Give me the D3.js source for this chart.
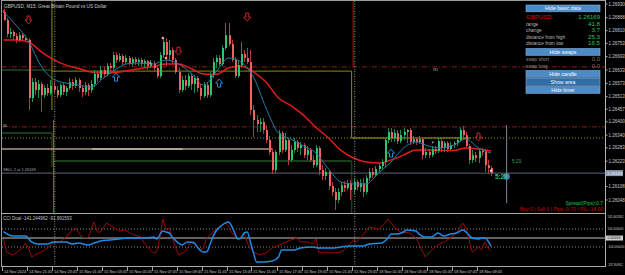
<!DOCTYPE html>
<html><head><meta charset="utf-8">
<script src="https://cdn.jsdelivr.net/npm/d3@7"></script>
<style>
html,body{margin:0;padding:0;background:#000;}
svg{display:block;font-family:"Liberation Sans",Arial,sans-serif;}
</style></head><body>
<svg id="c" width="625" height="275"></svg>
<script>
// ---------- DATA ----------
const symbol = "GBPUSD";
const title = "GBPUSD, M15:  Great Britain Pound vs US Dollar";
const openFirst = 1.26894;
const close = [1.26858,1.26795,1.26804,1.26786,1.26768,1.26790,1.26777,1.26768,1.26507,1.26579,
1.26543,1.26570,1.26520,1.26552,1.26529,1.26561,1.26543,1.26520,1.26565,1.26534,
1.26552,1.26579,1.26561,1.26588,1.26552,1.26534,1.26565,1.26543,1.26570,1.26615,
1.26597,1.26633,1.26615,1.26651,1.26642,1.26700,1.26678,1.26696,1.26669,1.26687,
1.26664,1.26682,1.26669,1.26678,1.26660,1.26673,1.26651,1.26664,1.26642,1.26606,
1.26700,1.26759,1.26700,1.26723,1.26678,1.26624,1.26543,1.26588,1.26561,1.26606,
1.26570,1.26597,1.26552,1.26516,1.26565,1.26520,1.26610,1.26669,1.26687,1.26660,
1.26732,1.26790,1.26750,1.26678,1.26606,1.26655,1.26705,1.26687,1.26669,1.26453,
1.26408,1.26390,1.26399,1.26363,1.26318,1.26264,1.26183,1.26264,1.26349,1.26273,
1.26318,1.26228,1.26273,1.26309,1.26282,1.26295,1.26250,1.26273,1.26228,1.26205,
1.26282,1.26183,1.26156,1.26174,1.26111,1.26084,1.26048,1.26084,1.26115,1.26102,
1.26124,1.26093,1.26129,1.26106,1.26124,1.26084,1.26147,1.26174,1.26160,1.26187,
1.26201,1.26219,1.26318,1.26354,1.26327,1.26349,1.26313,1.26340,1.26354,1.26363,
1.26309,1.26322,1.26309,1.26322,1.26250,1.26264,1.26250,1.26277,1.26268,1.26313,
1.26282,1.26304,1.26277,1.26295,1.26304,1.26318,1.26363,1.26340,1.26291,1.26228,
1.26250,1.26237,1.26268,1.26264,1.26205,1.26192,1.26169];
const high = [1.26908,1.26867,1.26822,1.26813,1.26799,1.26804,1.26799,1.26790,1.26777,1.26597,
1.26597,1.26588,1.26579,1.26565,1.26570,1.26588,1.26579,1.26561,1.26574,1.26574,
1.26561,1.26597,1.26592,1.26601,1.26597,1.26565,1.26579,1.26574,1.26588,1.26633,
1.26628,1.26651,1.26646,1.26664,1.26664,1.26714,1.26714,1.26709,1.26705,1.26700,
1.26696,1.26691,1.26691,1.26687,1.26687,1.26682,1.26678,1.26678,1.26673,1.26651,
1.26714,1.26777,1.26777,1.26768,1.26736,1.26687,1.26642,1.26606,1.26610,1.26619,
1.26619,1.26610,1.26606,1.26570,1.26579,1.26579,1.26624,1.26687,1.26700,1.26700,
1.26745,1.26844,1.26844,1.26768,1.26691,1.26678,1.26759,1.26723,1.26732,1.26723,
1.26475,1.26430,1.26417,1.26417,1.26385,1.26336,1.26282,1.26273,1.26363,1.26358,
1.26349,1.26327,1.26295,1.26327,1.26318,1.26309,1.26304,1.26291,1.26282,1.26250,
1.26295,1.26291,1.26205,1.26192,1.26183,1.26129,1.26102,1.26102,1.26129,1.26133,
1.26138,1.26138,1.26147,1.26138,1.26142,1.26147,1.26160,1.26192,1.26192,1.26201,
1.26214,1.26232,1.26327,1.26372,1.26372,1.26367,1.26363,1.26363,1.26372,1.26367,
1.26372,1.26336,1.26331,1.26336,1.26331,1.26282,1.26277,1.26291,1.26291,1.26327,
1.26322,1.26313,1.26313,1.26309,1.26313,1.26331,1.26376,1.26381,1.26354,1.26300,
1.26273,1.26264,1.26277,1.26282,1.26277,1.26228,1.26201];
const low = [1.26854,1.26781,1.26777,1.26768,1.26754,1.26759,1.26763,1.26759,1.26453,1.26489,
1.26520,1.26507,1.26444,1.26507,1.26516,1.26520,1.26529,1.26507,1.26511,1.26520,
1.26516,1.26543,1.26543,1.26552,1.26534,1.26511,1.26520,1.26516,1.26529,1.26556,
1.26579,1.26588,1.26601,1.26606,1.26624,1.26633,1.26664,1.26669,1.26655,1.26660,
1.26655,1.26651,1.26655,1.26651,1.26646,1.26642,1.26633,1.26642,1.26624,1.26597,
1.26597,1.26687,1.26651,1.26678,1.26660,1.26615,1.26529,1.26534,1.26543,1.26552,
1.26543,1.26529,1.26534,1.26498,1.26507,1.26507,1.26511,1.26597,1.26642,1.26651,
1.26651,1.26723,1.26741,1.26669,1.26597,1.26597,1.26642,1.26669,1.26660,1.26430,
1.26331,1.26354,1.26354,1.26345,1.26304,1.26250,1.26165,1.26169,1.26250,1.26259,
1.26264,1.26205,1.26219,1.26259,1.26264,1.26250,1.26237,1.26228,1.26219,1.26192,
1.26196,1.26160,1.26138,1.26138,1.26093,1.26066,1.26003,1.26034,1.26066,1.26084,
1.26093,1.26048,1.26075,1.26093,1.26084,1.26061,1.26075,1.26133,1.26147,1.26151,
1.26174,1.26187,1.26196,1.26304,1.26309,1.26309,1.26300,1.26304,1.26318,1.26304,
1.26295,1.26300,1.26295,1.26300,1.26232,1.26237,1.26237,1.26241,1.26255,1.26259,
1.26264,1.26264,1.26264,1.26273,1.26282,1.26291,1.26309,1.26318,1.26282,1.26210,
1.26214,1.26219,1.26214,1.26246,1.26174,1.26165,1.26156];

// moving averages, one reading every maStep bars
const maStep = 4;
const maSlow = [1.26768,1.26768,1.26759,1.26716,1.26680,1.26655,1.26640,1.26624,1.26619,1.26622,
1.26631,1.26640,1.26649,1.26660,1.26660,1.26640,1.26615,1.26613,1.26642,1.26651,
1.26624,1.26579,1.26507,1.26473,1.26430,1.26374,1.26327,1.26271,1.26237,1.26219,
1.26214,1.26228,1.26250,1.26273,1.26273,1.26271,1.26271,1.26282,1.26277,1.26268];
const maFast = [1.26894,1.26835,1.26763,1.26651,1.26592,1.26574,1.26565,1.26556,1.26597,1.26637,
1.26662,1.26664,1.26660,1.26678,1.26660,1.26619,1.26565,1.26624,1.26687,1.26669,
1.26601,1.26462,1.26349,1.26322,1.26291,1.26259,1.26187,1.26129,1.26120,1.26120,
1.26169,1.26219,1.26282,1.26309,1.26291,1.26282,1.26295,1.26322,1.26282,1.26259];

// CCI Dual readings [bar, value]
const cciRed = [[0,-10],[1,-156],[3,-189],[4,-167],[6,-111],[7,-56],[8,-111],[9,-211],[10,-189],[12,-156],[14,-111],[16,-56],[18,-44],[20,11],[22,89],[23,111],[25,11],[27,0],[28,89],[29,178],[30,67],[31,67],[33,167],[35,122],[37,78],[39,89],[41,44],[44,11],[45,-56],[47,-133],[48,-167],[49,-156],[50,0],[51,211],[52,89],[53,111],[54,0],[55,-100],[56,-189],[58,-156],[60,-44],[61,-44],[63,-133],[64,-111],[65,0],[67,67],[69,122],[71,167],[72,133],[73,56],[75,0],[76,11],[77,56],[78,-56],[80,-156],[82,-189],[84,-167],[86,-111],[89,-67],[92,-22],[94,0],[95,-44],[97,-44],[99,-67],[100,-11],[101,-167],[103,-156],[105,-167],[108,-156],[110,-100],[112,-22],[113,-44],[115,33],[117,122],[120,100],[122,167],[123,211],[125,122],[127,67],[130,56],[132,0],[135,-211],[137,-133],[139,-78],[141,-44],[143,0],[145,56],[147,167],[148,111],[150,-156],[152,-100],[153,-133],[154,-44],[155,-111],[156,-141]];
const cciBlue = [[0,72],[3,22],[7,22],[9,-44],[11,-67],[14,-67],[16,-44],[20,-44],[22,-67],[24,-56],[27,-78],[29,-56],[31,-33],[34,-22],[37,-11],[40,0],[46,0],[48,11],[49,-11],[51,78],[52,67],[53,56],[54,11],[56,-56],[57,-78],[59,-44],[61,-56],[62,-100],[64,-156],[65,-156],[66,-78],[67,11],[68,78],[70,145],[72,178],[73,133],[74,56],[75,-11],[76,0],[77,56],[78,67],[79,-44],[80,-167],[81,-267],[83,-267],[86,-256],[88,-211],[89,-133],[93,-133],[95,-111],[99,-100],[101,-111],[105,-111],[108,-100],[111,-89],[115,-89],[117,-67],[121,-56],[123,0],[124,44],[126,44],[128,67],[129,89],[132,78],[133,44],[135,11],[137,11],[139,56],[141,22],[143,44],[145,56],[147,89],[148,67],[150,0],[152,-11],[153,0],[154,0],[156,-92]];
const cciTitle = "CCI Dual -141.244962 -91.991593";
const cciTicks = [241.662362, 100, 0, -100, -327.80952];
const cciTickLabels = ["241.662362","100.000000","0.000000","-100.000000","-327.80952"];

const timeLabels = ["14 Nov 2024","14 Nov 21:45","14 Nov 23:45","15 Nov 01:45","15 Nov 03:45","15 Nov 05:45","15 Nov 07:45","15 Nov 09:45","15 Nov 11:45","15 Nov 13:45","15 Nov 15:45","15 Nov 17:45","15 Nov 19:45","15 Nov 21:45","15 Nov 23:45","18 Nov 01:45","18 Nov 03:45","18 Nov 05:45","18 Nov 07:45","18 Nov 09:45"];
const timeLabelEvery = 8;
const priceTicks = [1.26930,1.26868,1.26810,1.26753,1.26693,1.26633,1.26573,1.26513,1.26457,1.26400,1.26340,1.26283,1.26223,1.26108,1.26048];
const bid = 1.26169;

const arrowsDown = [[8,1.26858],[56,1.26718],[78,1.26871],[152,1.26331]];
const arrowsUp = [[36,1.26601],[69,1.26574],[124,1.26259]];
const daySeparators = [16.4, 112.4];
const slLevel = 1.26377, r1Level = 1.26647, yellowLevel = 1.26327;
const oliveTop = 1.26628, greenA = 1.26633, greenB = 1.26350, greenC = 1.26224, tanLevel = 1.26277;

const infoRows = [["range","41.8"],["change","3.7"],["distance from high","25.3"],["distance from low","16.5"]];
const swapRows = [["swap short","0.0"],["swap long","0.0"]];
const spreadText = "Spread(Pips):0.7";
const tradeText = "Buy:0 | Sell:1 | Pips:-0.70 | P/L:-14.00";
const timerText = "5:29";

// ---------- SCALES ----------
const svg = d3.select("#c");
const AX = 605.5;
const xB = d3.scaleLinear().domain([0,156]).range([3.5,491]);
const yP = d3.scaleLinear().domain([1.26948,1.26003]).range([0,210]);
const yC = d3.scaleLinear().domain([-327.80952,241.662362]).range([267.5,216.3]);

svg.append("rect").attr("width",625).attr("height",275).attr("fill","#000");
const defs = svg.append("defs");
defs.append("clipPath").attr("id","cm").append("rect").attr("x",2).attr("y",1).attr("width",AX-2).attr("height",212);
defs.append("clipPath").attr("id","cc").append("rect").attr("x",2).attr("y",214).attr("width",AX-2).attr("height",52.5);

const gm = svg.append("g").attr("clip-path","url(#cm)");
const gc = svg.append("g").attr("clip-path","url(#cc)");

function hline(g, p, x0, x1, color, w, dash){
  g.append("line").attr("x1",x0).attr("x2",x1).attr("y1",yP(p)).attr("y2",yP(p))
   .attr("stroke",color).attr("stroke-width",w).attr("stroke-dasharray",dash||null);
}
function vline(g, bar, p0, p1, color, w, dash){
  g.append("line").attr("x1",xB(bar)).attr("x2",xB(bar)).attr("y1",yP(p0)).attr("y2",yP(p1))
   .attr("stroke",color).attr("stroke-width",w).attr("stroke-dasharray",dash||null);
}

// levels
hline(gm, r1Level, 2, AX, "#8b1a1a", 1, "5,2,1,2");
hline(gm, slLevel, 2, AX, "#8b1a1a", 1, "5,2,1,2");
hline(gm, yellowLevel, 2, AX, "#9a9a10", 1, "1,2");
gm.append("line").attr("x1",xB(111.4)).attr("x2",xB(149.3)).attr("y1",yP(yellowLevel)).attr("y2",yP(yellowLevel)).attr("stroke","#a0a010").attr("stroke-width",1);
hline(gm, greenA, 2, xB(15.5), "#2d6e2d", 1);
gm.append("line").attr("x1",xB(15.5)).attr("x2",xB(111.4)).attr("y1",yP(oliveTop)).attr("y2",yP(oliveTop)).attr("stroke","#8c8c00").attr("stroke-width",1);
vline(gm, 15.5, 1.26948, 1.26453, "#8c8c00", 1);
vline(gm, 111.4, oliveTop, yellowLevel, "#8c8c00", 1);
hline(gm, greenB, 2, xB(15.5), "#1a3a1a", 2);
vline(gm, 15.5, greenB, 1.26198, "#1a401a", 1.5);
gm.append("line").attr("x1",xB(16.2)).attr("x2",xB(111.4)).attr("y1",yP(greenC)).attr("y2",yP(greenC)).attr("stroke","#17401a").attr("stroke-width",2);
vline(gm, 111.4, greenC, 1.25990, "#17401a", 1.5);
vline(gm, 16, 1.26408, 1.25990, "#2a8a3a", 1);
[[-1,28.3,"#a89a88"],[28.3,57.4,"#e6dfd2"],[57.4,86.2,"#a89a88"]].forEach(s=>{
  gm.append("line").attr("x1",xB(s[0])).attr("x2",xB(s[1])).attr("y1",yP(tanLevel)).attr("y2",yP(tanLevel)).attr("stroke",s[2]).attr("stroke-width",1.5);
});
hline(gm, bid, 2, AX, "#5c6678", 1);
vline(gm, 111.9, 1.26948, r1Level, "#8b0000", 1.5);

// day separators (both panels)
daySeparators.forEach(b=>{
  svg.append("line").attr("x1",xB(b)).attr("x2",xB(b)).attr("y1",1).attr("y2",266)
    .attr("stroke","#8c8c8c").attr("stroke-width",1).attr("stroke-dasharray","1,1.5");
});

// moving averages
const maLine = d3.line().x((d,i)=>xB(i*maStep)).y(d=>yP(d)).curve(d3.curveMonotoneX);
gm.append("path").attr("d",maLine(maSlow)).attr("fill","none").attr("stroke","#e31b1b").attr("stroke-width",1.5);

// candles
const bars = close.map((c,i)=>({i,o:i?close[i-1]:openFirst,h:high[i],l:low[i],c}));
const cx = d=>Math.round(xB(d.i));
gm.selectAll("line.w").data(bars).join("line").attr("class","w")
  .attr("x1",d=>cx(d)+0.5).attr("x2",d=>cx(d)+0.5).attr("y1",d=>yP(d.h)).attr("y2",d=>yP(d.l))
  .attr("stroke",d=>d.c>=d.o?"#1e8c4e":"#b03a3a").attr("stroke-width",1);
gm.selectAll("rect.b").data(bars).join("rect").attr("class","b")
  .attr("x",d=>cx(d)).attr("width",2)
  .attr("y",d=>yP(Math.max(d.o,d.c))).attr("height",d=>Math.max(1,Math.abs(yP(d.o)-yP(d.c))))
  .attr("fill",d=>d.c>=d.o?"#2fc46f":"#f0625f");

gm.append("path").attr("d",maLine(maFast)).attr("fill","none").attr("stroke","#1b7ea6").attr("stroke-width",1);

// arrows
function arrowPath(cx, cy, dir){
  const s = dir; // 1 down, -1 up
  const pts = [[-1.5,-4*s],[1.5,-4*s],[1.5,0],[3.5,0],[0,4*s],[-3.5,0],[-1.5,0]];
  return "M"+pts.map(p=>(cx+p[0])+","+(cy+p[1])).join("L")+"Z";
}
arrowsDown.forEach(a=>gm.append("path").attr("d",arrowPath(xB(a[0]),yP(a[1]),1)).attr("fill","none").attr("stroke","#c42828").attr("stroke-width",1));
arrowsUp.forEach(a=>gm.append("path").attr("d",arrowPath(xB(a[0]),yP(a[1]),-1)).attr("fill","none").attr("stroke","#2a8ad8").attr("stroke-width",1));
[[51,1.26777],[52,1.26687]].forEach(m=>gm.append("circle").attr("cx",xB(m[0])).attr("cy",yP(m[1])).attr("r",1.3).attr("fill","#ff9a9a"));
gm.append("circle").attr("cx",xB(47)).attr("cy",yP(1.26664)).attr("r",1.2).attr("fill","#6ab0e8");
gm.append("circle").attr("cx",xB(156)).attr("cy",yP(1.26180)).attr("r",1.2).attr("fill","#ffd0d0");
gm.append("text").attr("x",xB(137)).attr("y",yP(1.26300)).attr("font-size",4).attr("fill","#c8c8c8").text("F");

// text labels on chart
gm.append("text").attr("x",3).attr("y",yP(slLevel)).attr("font-size",4).attr("fill","#b8b8b8").text("SL");
gm.append("text").attr("x",xB(137.5)).attr("y",yP(r1Level)+4.5).attr("font-size",4).attr("fill","#b8b8b8").text("R1");
gm.append("text").attr("x",3).attr("y",yP(bid)-2).attr("font-size",4).attr("fill","#a8a8a8").text("SELL 2 at "+bid.toFixed(5));

// timer
const tX = xB(161);
gm.append("line").attr("x1",tX).attr("x2",tX).attr("y1",yP(1.26385)).attr("y2",yP(1.26034)).attr("stroke","#7a8496").attr("stroke-width",1);
gm.append("text").attr("x",tX+5).attr("y",yP(1.26215)).attr("font-size",5).attr("fill","#2e9a5a").text(timerText);
gm.append("circle").attr("cx",tX).attr("cy",yP(bid)+3.5).attr("r",3.3).attr("fill","#4f8fc8").attr("opacity",0.85);
gm.append("text").attr("x",tX+1).attr("y",yP(bid)+5.8).attr("text-anchor","end").attr("font-size",6.3).attr("font-weight","bold").attr("fill","#3cb878").text(timerText);

// bottom-right status
svg.append("text").attr("x",603).attr("y",205).attr("text-anchor","end").attr("font-size",5).attr("fill","#22c24a").text(spreadText);
svg.append("text").attr("x",603).attr("y",211).attr("text-anchor","end").attr("font-size",5).attr("fill","#d40000").text(tradeText);

// title
svg.append("text").attr("x",4).attr("y",7.5).attr("font-size",4.7).attr("fill","#c8c8c8").text(title);
svg.append("rect").attr("x",3).attr("y",10).attr("width",2).attr("height",3).attr("fill","#e03030");

// info panel
const pX0 = 526, pX1 = 600;
function button(y0,label,fill){
  svg.append("rect").attr("x",pX0).attr("y",y0).attr("width",pX1-pX0).attr("height",6.8)
    .attr("fill",fill).attr("stroke","#7fb2e4").attr("stroke-width",0.6);
  svg.append("text").attr("x",(pX0+pX1)/2).attr("y",y0+5.2).attr("text-anchor","middle").attr("font-size",5.2).attr("fill","#f4f8fc").text(label);
}
button(5,"Hide basic data","#4d8bc8");
svg.append("text").attr("x",pX0).attr("y",19).attr("font-size",6).attr("fill","#e00000").text(symbol);
svg.append("text").attr("x",pX1).attr("y",19).attr("text-anchor","end").attr("font-size",6).attr("fill","#2ec45a").text(bid.toFixed(5));
infoRows.forEach((r,i)=>{
  const yy = 25.5 + i*6.6;
  svg.append("text").attr("x",pX0).attr("y",yy).attr("font-size",4.8).attr("fill","#b8b8b8").text(r[0]);
  svg.append("text").attr("x",pX1).attr("y",yy).attr("text-anchor","end").attr("font-size",6.2).attr("fill","#2ec45a").text(r[1]);
});
button(48.5,"Hide swaps","#4d8bc8");
swapRows.forEach((r,i)=>{
  const yy = 61 + i*6.8;
  svg.append("text").attr("x",pX0).attr("y",yy).attr("font-size",4.8).attr("fill","#8a8a8a").text(r[0]);
  svg.append("text").attr("x",pX1).attr("y",yy).attr("text-anchor","end").attr("font-size",6).attr("fill","#707070").text(r[1]);
});
button(70.5,"Hide candle","#4d8bc8");
button(78.5,"Show area","#2f6ea8");
button(86.5,"Hide timer","#4d8bc8");

// CCI panel
[100,-100].forEach(v=>gc.append("line").attr("x1",2).attr("x2",AX).attr("y1",yC(v)).attr("y2",yC(v)).attr("stroke","#8a8a8a").attr("stroke-dasharray","1,2"));
gc.append("line").attr("x1",2).attr("x2",AX).attr("y1",yC(0)).attr("y2",yC(0)).attr("stroke","#c0c0c0").attr("stroke-width",1);
const cciLine = d3.line().x(d=>xB(d[0])).y(d=>yC(d[1]));
gc.append("path").attr("d",cciLine.curve(d3.curveLinear)(cciRed)).attr("fill","none").attr("stroke","#9a0a0a").attr("stroke-width",1);
gc.append("path").attr("d",d3.line().x(d=>xB(d[0])).y(d=>yC(d[1])).curve(d3.curveMonotoneX)(cciBlue)).attr("fill","none").attr("stroke","#1f8ae6").attr("stroke-width",1.5);
svg.append("text").attr("x",3).attr("y",219.5).attr("font-size",4.5).attr("fill","#c0c0c0").text(cciTitle);

// borders
svg.append("line").attr("x1",1).attr("x2",AX).attr("y1",0.5).attr("y2",0.5).attr("stroke","#9a9a9a");
svg.append("line").attr("x1",1.5).attr("x2",1.5).attr("y1",0).attr("y2",267).attr("stroke","#9a9a9a");
svg.append("line").attr("x1",1).attr("x2",AX).attr("y1",213.5).attr("y2",213.5).attr("stroke","#a8a8a8");
svg.append("line").attr("x1",1).attr("x2",AX).attr("y1",266.5).attr("y2",266.5).attr("stroke","#a8a8a8");
svg.append("line").attr("x1",AX).attr("x2",AX).attr("y1",0).attr("y2",267).attr("stroke","#b0b0b0");

// price axis
priceTicks.forEach(p=>{
  svg.append("line").attr("x1",AX).attr("x2",AX+2).attr("y1",yP(p)).attr("y2",yP(p)).attr("stroke","#b0b0b0");
  svg.append("text").attr("x",AX+3).attr("y",yP(p)+1.7).attr("font-size",4.5).attr("fill","#c8c8c8").text(p.toFixed(5));
});
svg.append("rect").attr("x",AX+0.5).attr("y",yP(bid)-3).attr("width",17).attr("height",6).attr("fill","#8a9ab2");
svg.append("text").attr("x",AX+1.5).attr("y",yP(bid)+1.8).attr("font-size",4.3).attr("fill","#f0f4f8").text(bid.toFixed(5));

// cci axis
cciTicks.forEach((v,i)=>{
  const yy = Math.min(264.5, Math.max(216, yC(v)));
  if(v===0){
    svg.append("rect").attr("x",AX+0.5).attr("y",yy-2.5).attr("width",17).attr("height",5).attr("fill","#d0d0d0");
    svg.append("text").attr("x",AX+2).attr("y",yy+1.2).attr("font-size",3.2).attr("fill","#111").text(cciTickLabels[i]);
  } else {
    svg.append("text").attr("x",AX+2).attr("y",yy+1.2).attr("font-size",3.0).attr("fill","#c8c8c8").text(cciTickLabels[i]);
  }
});

// time axis
timeLabels.forEach((t,i)=>{
  const xx = Math.round(xB(i*timeLabelEvery))-1.5;
  svg.append("line").attr("x1",xx).attr("x2",xx).attr("y1",267).attr("y2",271).attr("stroke","#a0a0a0");
  svg.append("text").attr("x",xx+1.5).attr("y",272.5).attr("font-size",3.9).attr("fill","#c8c8c8").text(t);
});
</script>
</body></html>
